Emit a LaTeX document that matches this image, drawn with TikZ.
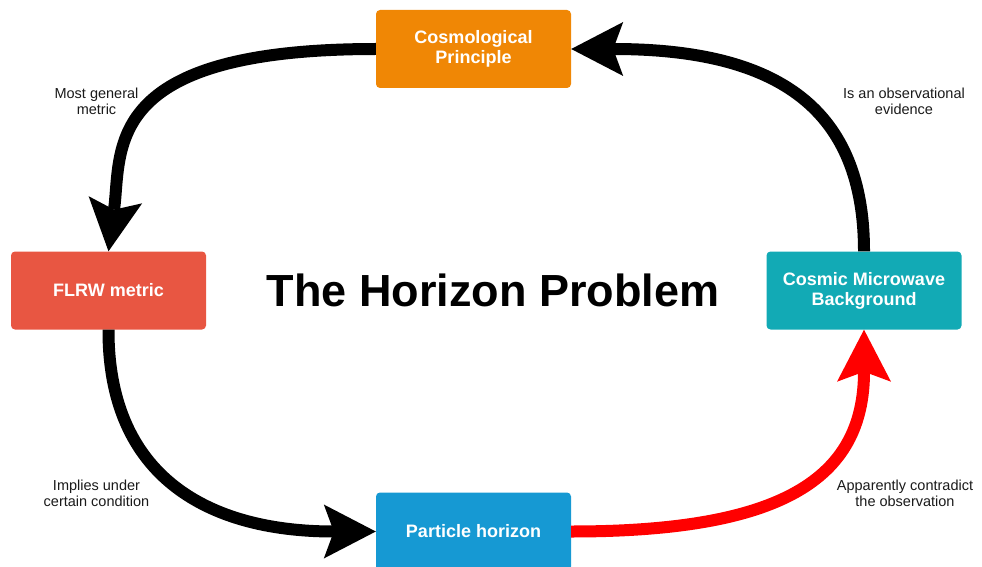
\documentclass[tikz,border=0pt]{standalone}
\usepackage{fontspec}
\setmainfont{Liberation Sans}
\usetikzlibrary{arrows.meta}
\definecolor{cporange}{HTML}{F08705}
\definecolor{flrwred}{HTML}{E85642}
\definecolor{cmbteal}{HTML}{12AAB5}
\definecolor{phblue}{HTML}{1699D3}
\definecolor{labgray}{HTML}{1A1A1A}
\begin{document}
\begin{tikzpicture}[x=1pt,y=-1pt,
  box/.style={rounded corners=4pt, minimum width=195pt, minimum height=78pt, text=white,
    font=\bfseries\fontsize{18}{20}\selectfont, align=center, inner sep=0pt},
  lab/.style={font=\fontsize{14.5}{16}\selectfont, align=center, text=labgray},
  conn/.style={line width=12pt, -{Stealth[length=52pt, width=54pt, inset=10pt, line width=0pt]}}]
\useasboundingbox (0,0) rectangle (982,567);
\node[box, fill=cporange] (cp) at (473.5,49) {Cosmological\\Principle};
\node[box, fill=flrwred] (flrw) at (108.5,290.5) {FLRW metric};
\node[box, fill=cmbteal] (cmb) at (864,290.5) {Cosmic Microwave\\Background};
\node[box, fill=phblue] (ph) at (473.5,531.5) {Particle horizon};
\draw[conn] (cp.west) .. controls (100,49) and (122,150) .. (flrw.north);
\draw[conn] (flrw.south) .. controls (108,470) and (200,531.5) .. (ph.west);
\draw[conn, red] (ph.east) .. controls (780,531.5) and (864,480) .. (cmb.south);
\draw[conn] (cmb.north) .. controls (864,110) and (780,49) .. (cp.east);
\node[font=\bfseries\fontsize{45}{50}\selectfont, anchor=base] (title) at (493,306) {The Horizon Problem};
\node[lab] (l1) at (96.5,101) {Most general\\metric};
\node[lab] (l2) at (904,101) {Is an observational\\evidence};
\node[lab] (l3) at (96.5,493) {Implies under\\certain condition};
\node[lab] (l4) at (905,493.5) {Apparently contradict\\the observation};
\end{tikzpicture}
\end{document}
